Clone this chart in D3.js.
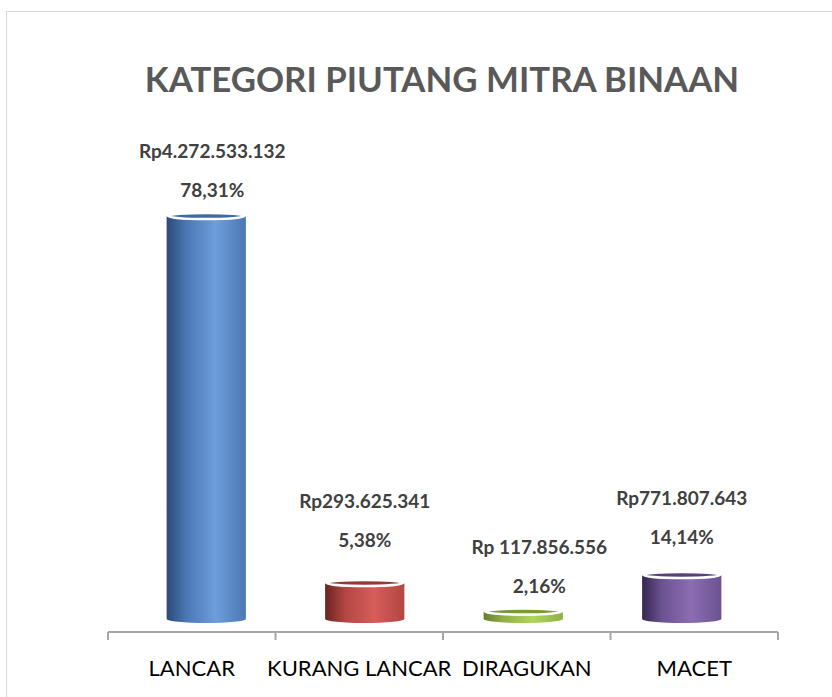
<!DOCTYPE html>
<html>
<head>
<meta charset="utf-8">
<script src="https://cdn.jsdelivr.net/npm/d3@7"></script>
<style>
  body { margin: 0; background: #fff; }
  svg text { font-family: Lato, "Open Sans", sans-serif; }
</style>
</head>
<body>
<div id="chart"></div>
<script>
var width = 832;
var height = 697;

// data
var categories = ["LANCAR", "KURANG LANCAR", "DIRAGUKAN", "MACET"];
var amountLabels = ["Rp4.272.533.132", "Rp293.625.341", "Rp 117.856.556", "Rp771.807.643"];
var percentLabels = ["78,31%", "5,38%", "2,16%", "14,14%"];
// bar heights as drawn in the picture (Rp)
var barValues = [4272533132, 381700000, 79500000, 466500000];

var colors = [
    { dark: "#2b4a78", light: "#6d9edb", mid: "#4a78b4", top: "#3f6aa3" },
    { dark: "#6a2321", light: "#d65d5a", mid: "#b24643", top: "#923a38" },
    { dark: "#667f2a", light: "#b0d65c", mid: "#8fb045", top: "#7a9a38" },
    { dark: "#35264f", light: "#8c6cb3", mid: "#6b5292", top: "#56417a" }
];

// label placement nudges (px)
var labelShift = [6, 0, 16, 0];
var labelGap = [19, 36, 19, 31];

var svg = d3.select("#chart").append("svg")
    .attr("width", width)
    .attr("height", height);

// chart frame
svg.append("rect")
    .attr("x", 6.5)
    .attr("y", 11.5)
    .attr("width", 900)
    .attr("height", 800)
    .attr("fill", "none")
    .attr("stroke", "#d9d9d9")
    .attr("stroke-width", 1);

svg.append("text")
    .attr("x", 442)
    .attr("y", 92)
    .attr("text-anchor", "middle")
    .attr("font-size", 34.8)
    .attr("font-weight", "bold")
    .attr("fill", "#595959")
    .text("KATEGORI PIUTANG MITRA BINAAN");

var xAxis = d3.scaleBand()
    .domain(categories)
    .range([108, 778]);

var xBar = d3.scaleBand()
    .domain(categories)
    .range([127, 761])
    .paddingInner(0.5)
    .paddingOuter(0.25);

var y = d3.scaleLinear()
    .domain([0, d3.max(barValues)])
    .range([619, 216]);

var floorY = y(0);
var ry = 4;

// gradients
var defs = svg.append("defs");
colors.forEach(function (c, i) {
    var g = defs.append("linearGradient")
        .attr("id", "grad" + i)
        .attr("x1", "0%").attr("x2", "100%")
        .attr("y1", "0%").attr("y2", "0%");
    g.append("stop").attr("offset", "0%").attr("stop-color", c.dark);
    g.append("stop").attr("offset", "25%").attr("stop-color", c.mid);
    g.append("stop").attr("offset", "62%").attr("stop-color", c.light);
    g.append("stop").attr("offset", "100%").attr("stop-color", c.mid);
});

// axis
var axis = svg.append("g")
    .attr("transform", "translate(0," + 632 + ")");

axis.append("line")
    .attr("x1", 108).attr("x2", 778)
    .attr("stroke", "#a6a6a6")
    .attr("stroke-width", 2);

var tickPos = categories.map(function (d) { return xAxis(d); }).concat([xAxis.range()[1]]);
axis.selectAll("line.tick")
    .data(tickPos)
    .enter().append("line")
    .attr("class", "tick")
    .attr("x1", function (d) { return d; })
    .attr("x2", function (d) { return d; })
    .attr("y1", 0)
    .attr("y2", 8)
    .attr("stroke", "#a6a6a6")
    .attr("stroke-width", 2);

svg.selectAll("text.cat")
    .data(categories)
    .enter().append("text")
    .attr("class", "cat")
    .attr("x", function (d) { return xAxis(d) + xAxis.bandwidth() / 2; })
    .attr("y", 676)
    .attr("text-anchor", "middle")
    .attr("font-size", 22)
    .attr("fill", "#000")
    .text(function (d) { return d; });

// cylinders
var bars = svg.selectAll("g.bar")
    .data(barValues)
    .enter().append("g")
    .attr("class", "bar");

bars.append("path")
    .attr("d", function (d, i) {
        var x0 = xBar(categories[i]);
        var x1 = x0 + xBar.bandwidth();
        var rx = xBar.bandwidth() / 2;
        var top = y(d);
        return "M" + x0 + "," + top +
            "L" + x0 + "," + floorY +
            "A" + rx + "," + ry + " 0 0 0 " + x1 + "," + floorY +
            "L" + x1 + "," + top +
            "A" + rx + "," + ry + " 0 0 1 " + x0 + "," + top + "Z";
    })
    .attr("fill", function (d, i) { return "url(#grad" + i + ")"; });

bars.append("ellipse")
    .attr("cx", function (d, i) { return xBar(categories[i]) + xBar.bandwidth() / 2; })
    .attr("cy", function (d) { return y(d); })
    .attr("rx", xBar.bandwidth() / 2 - 1.5)
    .attr("ry", ry - 1)
    .attr("fill", function (d, i) { return colors[i].top; })
    .attr("stroke", "#fff")
    .attr("stroke-width", 2.5);

// labels
bars.append("text")
    .attr("x", function (d, i) { return xBar(categories[i]) + xBar.bandwidth() / 2 + labelShift[i]; })
    .attr("y", function (d, i) { return y(d) - labelGap[i]; })
    .attr("text-anchor", "middle")
    .attr("font-size", 19)
    .attr("font-weight", "bold")
    .attr("fill", "#404040")
    .text(function (d, i) { return percentLabels[i]; });

bars.append("text")
    .attr("x", function (d, i) { return xBar(categories[i]) + xBar.bandwidth() / 2 + labelShift[i]; })
    .attr("y", function (d, i) { return y(d) - labelGap[i] - 39; })
    .attr("text-anchor", "middle")
    .attr("font-size", 19)
    .attr("font-weight", "bold")
    .attr("fill", "#404040")
    .text(function (d, i) { return amountLabels[i]; });
</script>
</body>
</html>
